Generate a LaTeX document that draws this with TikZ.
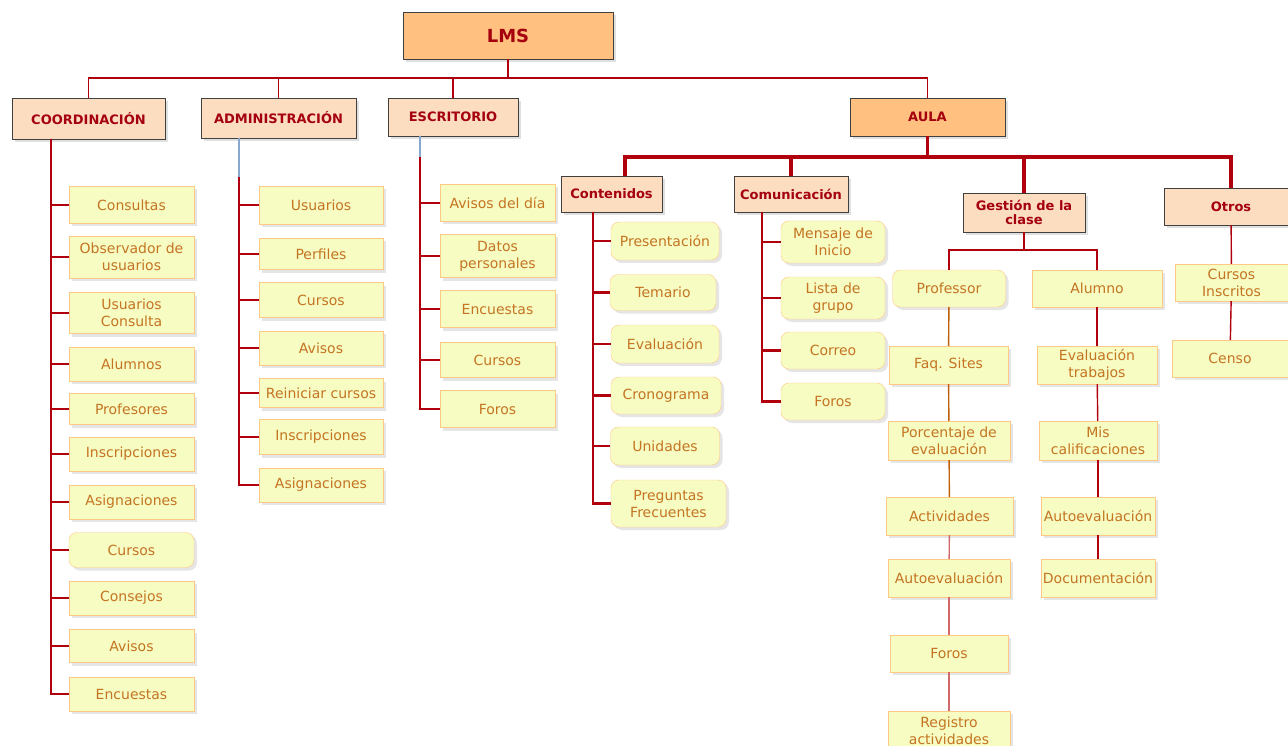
\documentclass[tikz,border=0pt]{standalone}
\usepackage{fontspec}
\setmainfont{DejaVu Sans}
\usetikzlibrary{shadows}

\definecolor{lmsorange}{HTML}{FFC080}
\definecolor{lmspeach}{HTML}{FDDDC0}
\definecolor{itemfill}{HTML}{F6FCC2}
\definecolor{itemline}{HTML}{FFC884}
\definecolor{itemtext}{HTML}{C47422}
\definecolor{headtext}{HTML}{A4000E}
\definecolor{linkred}{HTML}{B0000E}
\definecolor{linkbrown}{HTML}{C0600A}
\definecolor{linkpink}{HTML}{D06A6A}
\definecolor{linkblue}{HTML}{88A8D0}

\tikzset{
  head/.style={draw=black!75, fill=lmspeach, text=headtext, align=center,
    font=\fontsize{13}{14}\selectfont\bfseries, inner sep=1pt,
    drop shadow={opacity=1, fill=black!12, shadow xshift=3pt, shadow yshift=-3pt}},
  item/.style={draw=itemline, fill=itemfill, text=itemtext, align=center,
    font=\fontsize{14}{17}\selectfont, inner sep=1pt,
    drop shadow={opacity=1, fill=black!10, shadow xshift=3pt, shadow yshift=-3pt}},
  link/.style={draw=linkred, line width=1.4pt},
  trunk/.style={draw=linkred, line width=2.2pt},
  bus/.style={draw=linkred, line width=3.5pt},
}

\begin{document}
\begin{tikzpicture}[x=1pt,y=-1pt]
  \fill[white] (0,0) rectangle (1288,746);
  \useasboundingbox (0,0) rectangle (1288,746);

  % root and first level
  \node[head, fill=lmsorange, minimum width=210pt, minimum height=47pt,
    font=\fontsize{18}{20}\selectfont\bfseries] (lms) at (508,35.5) {LMS};
  \node[head, minimum width=153pt, minimum height=41pt] (coord) at (88.5,118.5) {COORDINACIÓN};
  \node[head, minimum width=155pt, minimum height=40pt] (admin) at (278.5,118) {ADMINISTRACIÓN};
  \node[head, minimum width=130pt, minimum height=38pt] (escr) at (453,117) {ESCRITORIO};
  \node[head, fill=lmsorange, minimum width=155pt, minimum height=38pt] (aula) at (927.5,117) {AULA};

  \coordinate (lmsbus) at (508,78);
  \draw[link] (lms.south) -- (lmsbus);
  \foreach \n in {coord,admin,escr,aula}{
    \draw[link] (lmsbus) -| (\n.north);
  }

  % COORDINACION
  \coordinate (coordtrunk) at (51,139);
  \foreach \i/\y/\h/\r/\txt in {1/205/37/0/Consultas, 2/257/42/0/{Observador de\\usuarios},
      3/313/41/0/{Usuarios\\Consulta}, 4/364/34/0/Alumnos, 5/409/31/0/Profesores,
      6/454/34/0/Inscripciones, 7/502/34/0/Asignaciones, 8/550/35/8/Cursos,
      9/598/34/0/Consejos, 10/646/33/0/Avisos, 11/694/34/0/Encuestas}{
    \node[item, minimum width=125pt, minimum height=\h pt, rounded corners=\r pt] (coord\i) at (131.5,\y) {\txt};
    \draw[link] (coordtrunk) |- (coord\i.west);
  }

  % ADMINISTRACION
  \coordinate (admintrunk) at (239,138);
  \foreach \i/\y/\h/\txt in {1/205/38/Usuarios, 2/254/31/Perfiles, 3/300/35/Cursos,
      4/348/34/Avisos, 5/393/29/Reiniciar cursos, 6/437/35/Inscripciones, 7/485/34/Asignaciones}{
    \node[item, minimum width=124pt, minimum height=\h pt] (admin\i) at (321,\y) {\txt};
    \draw[link] (admintrunk) |- (admin\i.west);
  }
  \draw[linkblue, line width=1.4pt] (admintrunk) -- ++(0,39);

  % ESCRITORIO
  \coordinate (escrtrunk) at (420,136);
  \foreach \i/\y/\h/\txt in {1/203/37/Avisos del día, 2/256/43/{Datos\\personales},
      3/309/37/Encuestas, 4/360/35/Cursos, 5/409/37/Foros}{
    \node[item, minimum width=115pt, minimum height=\h pt] (escr\i) at (497.5,\y) {\txt};
    \draw[link] (escrtrunk) |- (escr\i.west);
  }
  \draw[linkblue, line width=1.4pt] (escrtrunk) -- ++(0,21);

  % AULA
  \node[head, minimum width=101pt, minimum height=36pt] (cont) at (611.5,194) {Contenidos};
  \node[head, minimum width=114pt, minimum height=36pt] (comu) at (791,194) {Comunicación};
  \node[head, minimum width=122pt, minimum height=39pt] (gest) at (1024,212.5) {Gestión de la\\clase};
  \node[head, minimum width=134pt, minimum height=37pt] (otros) at (1231,206.5) {Otros};

  \coordinate (aulabus) at (927.5,157);
  \draw[bus] (aula.south) -- (aulabus);
  \draw[bus] (aulabus) -| (625,0 |- cont.north);
  \foreach \n in {comu,gest,otros}{
    \draw[bus] (aulabus) -| (\n.north);
  }

  % Contenidos
  \coordinate (conttrunk) at (593,212);
  \foreach \i/\x/\y/\w/\h/\txt in {1/665/241/108/38/Presentación, 2/663/292.5/106/36/Temario,
      3/665/344/108/38/Evaluación, 4/666/395.5/110/37/Cronograma, 5/665/446/109/38/Unidades,
      6/668.5/503.5/115/47/{Preguntas\\Frecuentes}}{
    \node[item, minimum width=\w pt, minimum height=\h pt, rounded corners=8pt] (cont\i) at (\x,\y) {\txt};
    \draw[trunk] (conttrunk) |- (cont\i.west);
  }

  % Comunicacion
  \coordinate (comutrunk) at (762,212);
  \foreach \i/\y/\h/\txt in {1/242/42/{Mensaje de\\Inicio}, 2/298/42/{Lista de\\grupo},
      3/350.5/37/Correo, 4/401.5/37/Foros}{
    \node[item, minimum width=104pt, minimum height=\h pt, rounded corners=8pt] (comu\i) at (833,\y) {\txt};
    \draw[trunk] (comutrunk) |- (comu\i.west);
  }

  % Gestion de la clase
  \node[item, minimum width=113pt, minimum height=37pt, rounded corners=8pt] (prof) at (949,288.5) {Professor};
  \node[item, minimum width=130pt, minimum height=37pt] (alum) at (1097,288.5) {Alumno};
  \coordinate (gestbus) at (1024,250);
  \draw[link] (gest.south) -- (gestbus);
  \draw[link] (gestbus) -| (prof.north);
  \draw[link] (gestbus) -| (alum.north);

  \node[item, minimum width=119pt, minimum height=38pt] (prof1) at (948.5,365) {Faq. Sites};
  \node[item, minimum width=122pt, minimum height=39pt] (prof2) at (949,440.5) {Porcentaje de\\evaluación};
  \node[item, minimum width=127pt, minimum height=38pt] (prof3) at (949.5,516) {Actividades};
  \node[item, minimum width=122pt, minimum height=38pt] (prof4) at (949,578) {Autoevaluación};
  \node[item, minimum width=118pt, minimum height=37pt] (prof5) at (949,653.5) {Foros};
  \node[item, minimum width=122pt, minimum height=39pt] (prof6) at (949,730.5) {Registro\\actividades};
  \draw[link, draw=linkbrown] (prof) -- (prof1);
  \draw[link, draw=linkbrown] (prof1) -- (prof2);
  \draw[link, draw=linkbrown] (prof2) -- (prof3);
  \draw[link, draw=linkpink] (prof3) -- (prof4);
  \draw[link, draw=linkpink] (prof4) -- (prof5);
  \draw[link, draw=linkpink] (prof5) -- (prof6);

  \node[item, minimum width=120pt, minimum height=38pt] (alum1) at (1097,365) {Evaluación\\trabajos};
  \node[item, minimum width=118pt, minimum height=39pt] (alum2) at (1098,440.5) {Mis\\calificaciones};
  \node[item, minimum width=114pt, minimum height=38pt] (alum3) at (1098,516) {Autoevaluación};
  \node[item, minimum width=114pt, minimum height=38pt] (alum4) at (1098,578) {Documentación};
  \draw[link] (alum) -- (alum1);
  \draw[link] (alum1) -- (alum2);
  \draw[link] (alum2) -- (alum3);
  \draw[link] (alum3) -- (alum4);

  % Otros
  \node[item, minimum width=113pt, minimum height=37pt] (otros1) at (1231.5,282.5) {Cursos\\Inscritos};
  \node[item, minimum width=116pt, minimum height=37pt] (otros2) at (1230,358.5) {Censo};
  \draw[link] (otros) -- (otros1);
  \draw[link] (otros1) -- (otros2);
\end{tikzpicture}
\end{document}
